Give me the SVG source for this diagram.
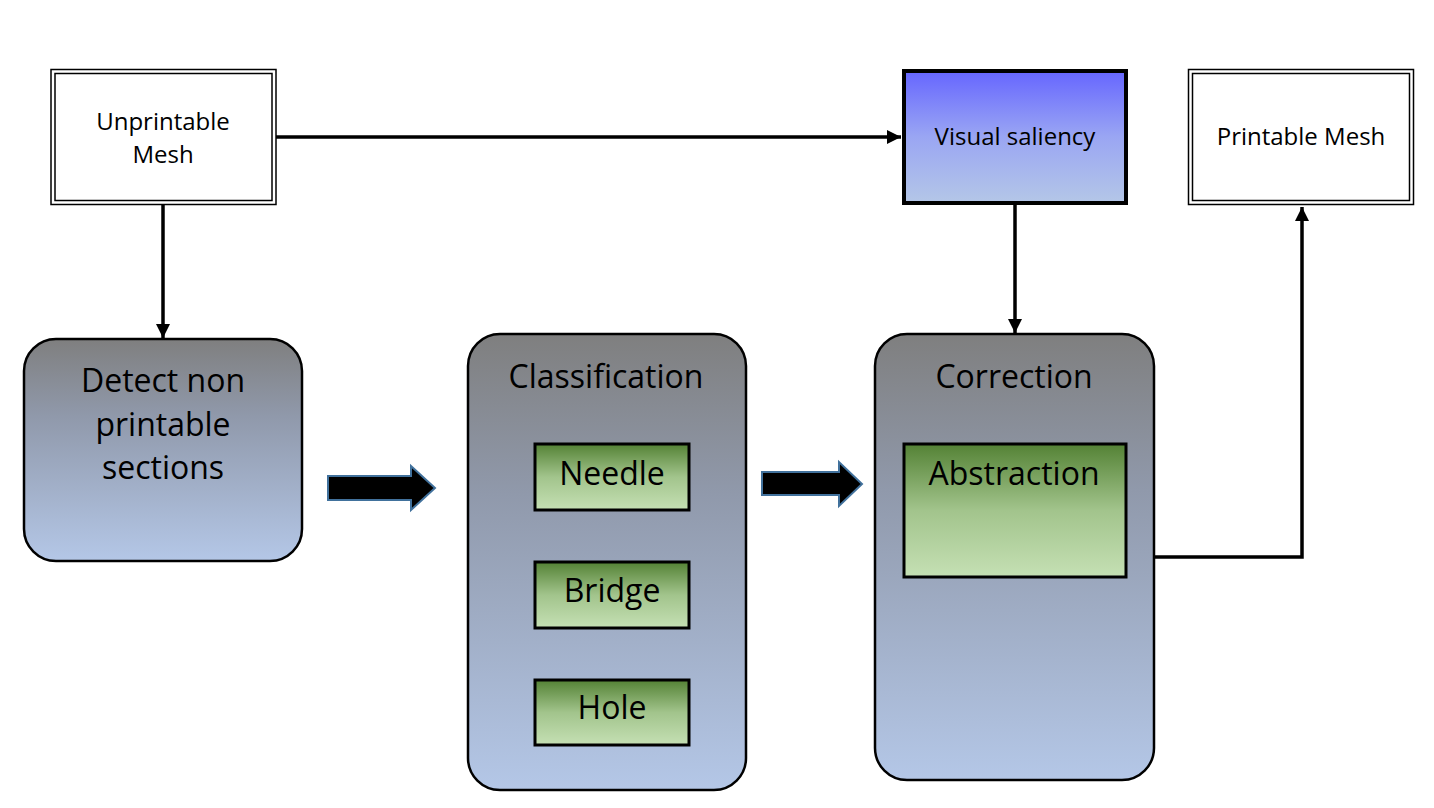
<svg xmlns="http://www.w3.org/2000/svg" width="1434" height="808" viewBox="0 0 1434 808">
  <defs>
    <linearGradient id="gGrey" x1="0" y1="0" x2="0" y2="1">
      <stop offset="0" stop-color="#7f7f7f"/>
      <stop offset="0.35" stop-color="#9099ab"/>
      <stop offset="1" stop-color="#b4c7e7"/>
    </linearGradient>
    <linearGradient id="gBlue" x1="0" y1="0" x2="0" y2="1">
      <stop offset="0" stop-color="#6666ff"/>
      <stop offset="0.5" stop-color="#9aa6f3"/>
      <stop offset="1" stop-color="#b4c7e7"/>
    </linearGradient>
    <linearGradient id="gGreen" x1="0" y1="0" x2="0" y2="1">
      <stop offset="0" stop-color="#548235"/>
      <stop offset="0.5" stop-color="#a2c48c"/>
      <stop offset="1" stop-color="#c5e0b4"/>
    </linearGradient>
    <marker id="arr" viewBox="0 0 10 10" refX="10" refY="5" markerWidth="4" markerHeight="4" markerUnits="strokeWidth" orient="auto">
      <path d="M0,0 L10,5 L0,10 z" fill="#000"/>
    </marker>
  </defs>
  <style>
    text { font-family: "Open Sans", "Noto Sans", "Liberation Sans", sans-serif; fill: #000; text-anchor: middle; }
    .sm { font-size: 24px; }
    .lg { font-size: 32px; }
    .dbl-out { fill: #fff; stroke: #000; stroke-width: 1.5; }
    .dbl-in { fill: none; stroke: #000; stroke-width: 1.5; }
    .big { fill: url(#gGrey); stroke: #000; stroke-width: 2.5; }
    .sub { fill: url(#gGreen); stroke: #000; stroke-width: 3; }
    .conn { fill: none; stroke: #000; stroke-width: 3.5; }
    .blk { fill: #000; stroke: #41719c; stroke-width: 2; }
  </style>
  <rect width="1434" height="808" fill="#fff"/>

  <g id="connectors">
    <line class="conn" x1="276" y1="137" x2="901" y2="137" marker-end="url(#arr)"/>
    <line class="conn" x1="163" y1="205" x2="163" y2="338" marker-end="url(#arr)"/>
    <line class="conn" x1="1015" y1="205" x2="1015" y2="333" marker-end="url(#arr)"/>
    <polyline class="conn" points="1155,557 1302,557 1302,207" marker-end="url(#arr)"/>
  </g>

  <g id="unprintable-mesh">
    <rect class="dbl-out" x="51" y="69.5" width="225" height="135"/>
    <rect class="dbl-in" x="55" y="73.5" width="217" height="127"/>
    <text class="sm" x="163" y="130">Unprintable</text>
    <text class="sm" x="163" y="163">Mesh</text>
  </g>

  <g id="visual-saliency">
    <rect x="904" y="71" width="222" height="132" fill="url(#gBlue)" stroke="#000" stroke-width="4"/>
    <text class="sm" x="1015" y="145">Visual saliency</text>
  </g>

  <g id="printable-mesh">
    <rect class="dbl-out" x="1188.5" y="69.5" width="225" height="135"/>
    <rect class="dbl-in" x="1192.5" y="73.5" width="217" height="127"/>
    <text class="sm" x="1301" y="145">Printable Mesh</text>
  </g>

  <g id="detect">
    <rect class="big" x="24" y="339" width="278" height="222" rx="32"/>
    <text class="lg" x="163" y="392">Detect non</text>
    <text class="lg" x="163" y="436">printable</text>
    <text class="lg" x="163" y="479">sections</text>
  </g>

  <g id="arrow1">
    <polygon class="blk" points="328,476 411,476 411,466 435,488 411,510 411,500 328,500"/>
  </g>

  <g id="classification">
    <rect class="big" x="468" y="334" width="278" height="456" rx="32"/>
    <text class="lg" x="606" y="388">Classification</text>
  </g>
  <g id="needle">
    <rect class="sub" x="535" y="444" width="154" height="66"/>
    <text class="lg" x="612" y="485">Needle</text>
  </g>
  <g id="bridge">
    <rect class="sub" x="535" y="562" width="154" height="66"/>
    <text class="lg" x="612" y="602">Bridge</text>
  </g>
  <g id="hole">
    <rect class="sub" x="535" y="680" width="154" height="65"/>
    <text class="lg" x="612" y="719">Hole</text>
  </g>

  <g id="arrow2">
    <polygon class="blk" points="762,472 839,472 839,462 862,484 839,506 839,495 762,495"/>
  </g>

  <g id="correction">
    <rect class="big" x="875" y="334" width="279" height="446" rx="32"/>
    <text class="lg" x="1014" y="388">Correction</text>
  </g>
  <g id="abstraction">
    <rect class="sub" x="904" y="444" width="222" height="133"/>
    <text class="lg" x="1014" y="485">Abstraction</text>
  </g>
</svg>
